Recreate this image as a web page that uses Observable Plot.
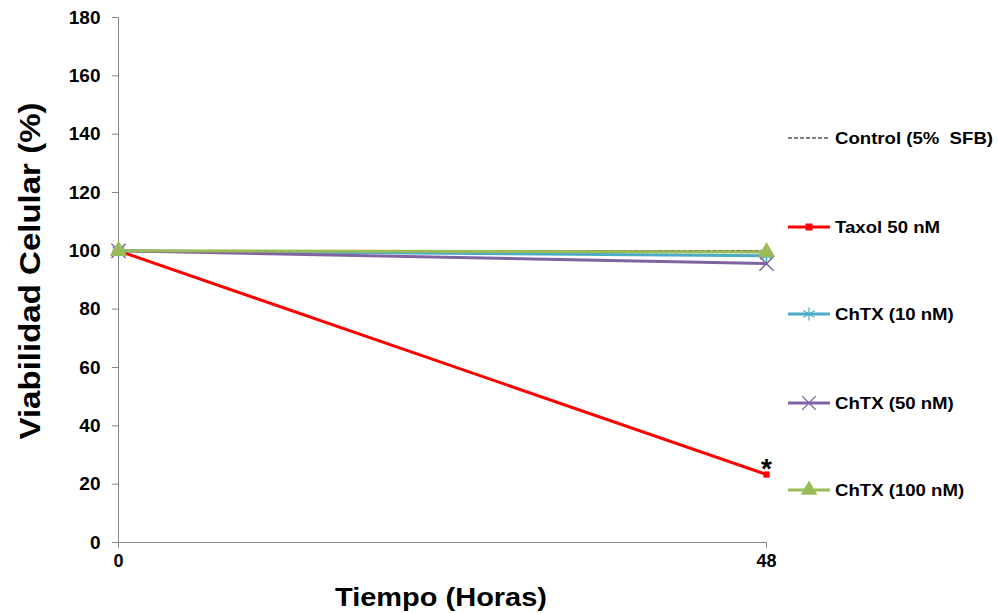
<!DOCTYPE html>
<html>
<head>
<meta charset="utf-8">
<script src="https://cdn.jsdelivr.net/npm/d3@7"></script>
<script src="https://cdn.jsdelivr.net/npm/@observablehq/plot@0.6"></script>
<style>
  html, body { margin: 0; padding: 0; background: #fff; }
  #chart { position: relative; width: 999px; height: 613px; }
</style>
</head>
<body>
<div id="chart"></div>
<script>
const times = [0, 48];
const seriesNames = ["Control (5%  SFB)", "Taxol 50 nM", "ChTX (10 nM)", "ChTX (50 nM)", "ChTX (100 nM)"];
const control = [100, 100];
const taxol = [100, 23.3];
const chtx10 = [100, 98.3];
const chtx50 = [100, 95.6];
const chtx100 = [100, 99.6];
const yTicks = [0, 20, 40, 60, 80, 100, 120, 140, 160, 180];
const xTicks = [0, 48];

const colors = ["#000000", "#FF0000", "#4BACC6", "#8064A2", "#9BBB59"];
const symbols = [null, "square", "asterisk", "times", "triangle"];
const valuesList = [control, taxol, chtx10, chtx50, chtx100];

const rows = [];
seriesNames.forEach((s, i) => times.forEach((t, j) => rows.push({series: s, idx: i, t, v: valuesList[i][j]})));

const font = "'Liberation Sans', Arial, sans-serif";
const marks = [
  Plot.ruleX([0], {stroke: "#868686", strokeWidth: 1}),
  Plot.ruleY([0], {stroke: "#868686", strokeWidth: 1}),
  Plot.axisY({ticks: yTicks, tickSize: 6, tickPadding: 12, label: null, fontSize: 19, fontWeight: "bold", fill: "#000", stroke: "#868686"}),
  Plot.axisX({ticks: xTicks, tickSize: 6, tickPadding: 6, label: null, fontSize: 18, fontWeight: "bold", fill: "#000", stroke: "#868686"})
];
seriesNames.forEach((s, i) => {
  const d = rows.filter(r => r.idx === i);
  marks.push(Plot.line(d, {x: "t", y: "v", stroke: colors[i], strokeWidth: i === 0 ? 1 : 3, strokeDasharray: i === 0 ? "4,2" : null}));
  if (symbols[i]) {
    const isLine = symbols[i] === "asterisk" || symbols[i] === "times";
    marks.push(Plot.dot(d, {x: "t", y: "v", symbol: () => symbols[i], r: symbols[i] === "square" ? 3.5 : 6.5,
      fill: isLine ? "none" : colors[i], stroke: colors[i], strokeWidth: isLine ? 1.5 : 0}));
  }
});
// significance star
marks.push(Plot.text([{t: 48, v: taxol[1]}], {x: "t", y: "v", text: () => "*", dy: -6, fontSize: 28, fontWeight: "bold", fill: "#000"}));

const plot = Plot.plot({
  width: 999,
  height: 613,
  marginLeft: 118,
  marginRight: 233,
  marginTop: 17,
  marginBottom: 71,
  x: {domain: [0, 48]},
  y: {domain: [0, 180]},
  style: {fontFamily: font, background: "#fff"},
  marks
});
document.getElementById("chart").appendChild(plot);

const svg = d3.select(plot);
// axis titles
svg.append("text").attr("x", 441).attr("y", 606).attr("text-anchor", "middle")
  .attr("font-family", font).attr("font-size", 26).attr("font-weight", "bold")
  .attr("textLength", 212).attr("lengthAdjust", "spacingAndGlyphs").text("Tiempo (Horas)");
svg.append("text").attr("transform", "translate(40,271) rotate(-90)").attr("text-anchor", "middle")
  .attr("font-family", font).attr("font-size", 30).attr("font-weight", "bold")
  .attr("textLength", 337).attr("lengthAdjust", "spacingAndGlyphs").text("Viabilidad Celular (%)");

// legend
const legendY = [138, 227, 314, 403, 490];
const lg = svg.append("g").attr("text-anchor", "start");
const texts = [];
seriesNames.forEach((s, i) => {
  const y = legendY[i];
  lg.append("line").attr("x1", 788).attr("x2", 830).attr("y1", y).attr("y2", y)
    .attr("stroke", colors[i]).attr("stroke-width", i === 0 ? 1 : 3).attr("stroke-dasharray", i === 0 ? "4,2" : null);
  if (symbols[i]) {
    const sym = {square: d3.symbolSquare, asterisk: d3.symbolAsterisk, times: d3.symbolTimes, triangle: d3.symbolTriangle}[symbols[i]];
    const isLine = symbols[i] === "asterisk" || symbols[i] === "times";
    const sz = symbols[i] === "square" ? 49 : 120;
    lg.append("path").attr("transform", `translate(809,${y})`).attr("d", d3.symbol(sym, sz)())
      .attr("fill", isLine ? "none" : colors[i]).attr("stroke", colors[i]).attr("stroke-width", isLine ? 1.2 : 0);
  }
  texts.push(lg.append("text").attr("x", 835).attr("y", y).attr("dy", "0.35em").attr("text-anchor", "start")
    .attr("font-family", font).attr("font-size", 17).attr("font-weight", "bold").text(s));
});
// uniform horizontal stretch so the first entry spans like the reference
const k = 158 / texts[0].node().getComputedTextLength();
texts.forEach(t => t.attr("textLength", t.node().getComputedTextLength() * k).attr("lengthAdjust", "spacingAndGlyphs"));
</script>
</body>
</html>
